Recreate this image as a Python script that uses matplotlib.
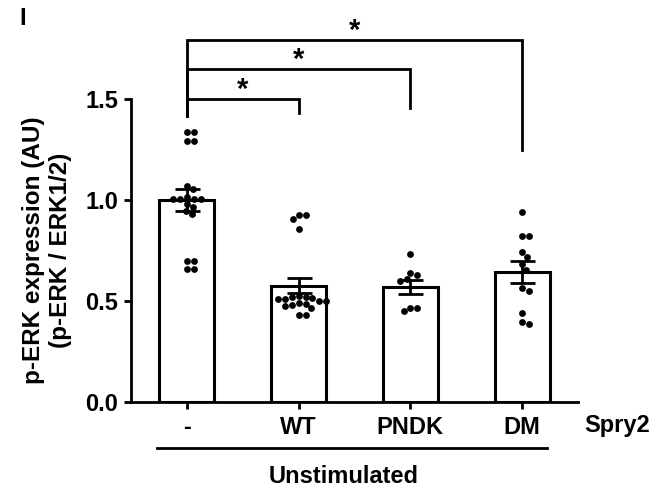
import matplotlib
matplotlib.use("Agg")
import matplotlib.pyplot as plt
import numpy as np

plt.rcParams['font.family'] = ['Liberation Sans', 'DejaVu Sans']
plt.rcParams['font.weight'] = 'bold'
plt.rcParams['axes.labelweight'] = 'bold'

# data
groups = ['-', 'WT', 'PNDK', 'DM']
ctrl = [1.338, 1.338, 1.292, 1.292, 1.069, 1.054, 1.016, 1.005, 1.005, 1.005, 1.005,
        0.98, 0.967, 0.946, 0.93, 0.70, 0.70, 0.658, 0.658]
wt = [0.926, 0.926, 0.906, 0.856, 0.525, 0.52, 0.515, 0.51, 0.50, 0.49, 0.48, 0.475,
      0.485, 0.50, 0.51, 0.52, 0.465, 0.43, 0.43]
pndk = [0.733, 0.637, 0.629, 0.607, 0.60, 0.464, 0.452, 0.464]
dm = [0.939, 0.823, 0.823, 0.744, 0.719, 0.682, 0.653, 0.563, 0.551, 0.439, 0.386, 0.397]
means = [1.0, 0.575, 0.57, 0.645]
sems = [0.052, 0.037, 0.033, 0.055]
# significance brackets: (right group, bar height, right leg end)
sig_pairs = [(1, 1.50, 1.43), (2, 1.65, 1.455), (3, 1.79, 1.25)]
sig_left_end = 1.416


def swarm(vals, ppx, ppy, d=7.0):
    # simple beeswarm, offsets in data units
    y = np.asarray(vals) * ppy
    xs = np.zeros(len(y))
    done = []
    for i in np.argsort(-y, kind='stable'):
        near = [j for j in done if abs(y[j] - y[i]) < d]
        cands = [0.0]
        for j in near:
            dx = np.sqrt(d ** 2 - (y[j] - y[i]) ** 2)
            cands += [xs[j] + dx, xs[j] - dx]
        cands.sort(key=abs)
        for c in cands:
            if all((c - xs[j]) ** 2 + (y[j] - y[i]) ** 2 >= d ** 2 - 1e-6 for j in near):
                xs[i] = c
                break
        done.append(i)
    return xs / ppx


fig = plt.figure(figsize=(6.65, 4.9), dpi=100)
ax = fig.add_axes([131 / 665, 1 - 402 / 490, 447 / 665, 303 / 490])
ax.set_xlim(-0.5, 3.5)
ax.set_ylim(0, 1.5)
p0 = ax.transData.transform((0, 0))
p1 = ax.transData.transform((1, 1))
ppx, ppy = p1[0] - p0[0], p1[1] - p0[1]

x = np.arange(len(groups))
ax.bar(x, means, width=0.49, color='white', edgecolor='black', linewidth=2.2, zorder=1)
for i, vals in enumerate([ctrl, wt, pndk, dm]):
    ax.scatter(i + swarm(vals, ppx, ppy), vals, s=24, color='black', linewidths=0, zorder=3)
ax.errorbar(x, means, yerr=sems, fmt='none', ecolor='black', elinewidth=2,
            capsize=9, capthick=2, zorder=4)

for ri, h, end in sig_pairs:
    ax.plot([0, 0, ri, ri], [sig_left_end, h, h, end], color='black', lw=2,
            clip_on=False, solid_joinstyle='miter')
    ax.text(ri / 2, h + 0.005, '*', ha='center', va='baseline', fontsize=21, weight='bold')

for s in ['top', 'right']:
    ax.spines[s].set_visible(False)
for s in ['left', 'bottom']:
    ax.spines[s].set_linewidth(2)
ax.set_yticks([0, 0.5, 1.0, 1.5])
ax.set_yticklabels(['0.0', '0.5', '1.0', '1.5'])
ax.set_xticks(x)
ax.set_xticklabels(groups)
ax.tick_params(width=2, length=5, labelsize=17)
ax.tick_params(axis='y', pad=4)
ax.tick_params(axis='x', pad=5)
ax.set_ylabel('p-ERK expression (AU)\n(p-ERK / ERK1/2)', fontsize=17.5, labelpad=10)

ax.text(3.85, -0.115, 'Spry2', ha='center', va='center', fontsize=17, clip_on=False)
ax.plot([-0.27, 3.22], [-0.228, -0.228], color='black', lw=2, clip_on=False)
ax.text(1.4, -0.371, 'Unstimulated', ha='center', va='center', fontsize=17)
fig.text(23 / 665, 1 - 25 / 490, 'I', ha='center', va='baseline', fontsize=17, weight='bold')

fig.savefig('out.png', dpi=100)
